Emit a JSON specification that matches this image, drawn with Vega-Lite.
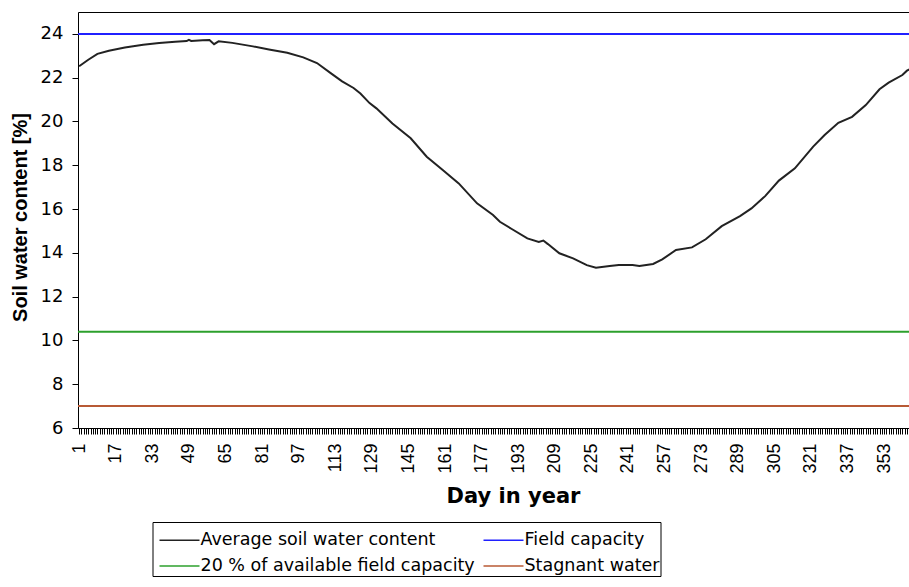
{
  "$schema": "https://vega.github.io/schema/vega-lite/v6.json",
  "autosize": "none",
  "padding": {"left": 78, "top": 12, "right": 0, "bottom": 159},
  "width": 831,
  "height": 416,
  "background": "white",
  "config": {
    "view": {"stroke": null},
    "axis": {"domainColor": "black", "tickColor": "black", "labelColor": "black", "titleColor": "black", "grid": false}
  },
  "datasets": {
    "soil": [
      {"day": 1, "value": 22.52, "series": "Average soil water content"},
      {"day": 5, "value": 22.82, "series": "Average soil water content"},
      {"day": 9, "value": 23.09, "series": "Average soil water content"},
      {"day": 14, "value": 23.23, "series": "Average soil water content"},
      {"day": 21, "value": 23.38, "series": "Average soil water content"},
      {"day": 29, "value": 23.5, "series": "Average soil water content"},
      {"day": 36, "value": 23.58, "series": "Average soil water content"},
      {"day": 43, "value": 23.64, "series": "Average soil water content"},
      {"day": 48, "value": 23.67, "series": "Average soil water content"},
      {"day": 49, "value": 23.73, "series": "Average soil water content"},
      {"day": 50, "value": 23.68, "series": "Average soil water content"},
      {"day": 55, "value": 23.71, "series": "Average soil water content"},
      {"day": 58, "value": 23.72, "series": "Average soil water content"},
      {"day": 60, "value": 23.53, "series": "Average soil water content"},
      {"day": 62, "value": 23.66, "series": "Average soil water content"},
      {"day": 68, "value": 23.59, "series": "Average soil water content"},
      {"day": 77, "value": 23.43, "series": "Average soil water content"},
      {"day": 84, "value": 23.29, "series": "Average soil water content"},
      {"day": 92, "value": 23.14, "series": "Average soil water content"},
      {"day": 99, "value": 22.93, "series": "Average soil water content"},
      {"day": 105, "value": 22.67, "series": "Average soil water content"},
      {"day": 111, "value": 22.21, "series": "Average soil water content"},
      {"day": 116, "value": 21.83, "series": "Average soil water content"},
      {"day": 121, "value": 21.53, "series": "Average soil water content"},
      {"day": 124, "value": 21.28, "series": "Average soil water content"},
      {"day": 128, "value": 20.84, "series": "Average soil water content"},
      {"day": 131, "value": 20.6, "series": "Average soil water content"},
      {"day": 138, "value": 19.91, "series": "Average soil water content"},
      {"day": 146, "value": 19.23, "series": "Average soil water content"},
      {"day": 153, "value": 18.39, "series": "Average soil water content"},
      {"day": 160, "value": 17.78, "series": "Average soil water content"},
      {"day": 167, "value": 17.17, "series": "Average soil water content"},
      {"day": 175, "value": 16.26, "series": "Average soil water content"},
      {"day": 182, "value": 15.73, "series": "Average soil water content"},
      {"day": 185, "value": 15.42, "series": "Average soil water content"},
      {"day": 190, "value": 15.1, "series": "Average soil water content"},
      {"day": 197, "value": 14.66, "series": "Average soil water content"},
      {"day": 202, "value": 14.5, "series": "Average soil water content"},
      {"day": 204, "value": 14.56, "series": "Average soil water content"},
      {"day": 206, "value": 14.4, "series": "Average soil water content"},
      {"day": 211, "value": 13.98, "series": "Average soil water content"},
      {"day": 217, "value": 13.75, "series": "Average soil water content"},
      {"day": 223, "value": 13.44, "series": "Average soil water content"},
      {"day": 227, "value": 13.32, "series": "Average soil water content"},
      {"day": 233, "value": 13.4, "series": "Average soil water content"},
      {"day": 237, "value": 13.44, "series": "Average soil water content"},
      {"day": 243, "value": 13.44, "series": "Average soil water content"},
      {"day": 246, "value": 13.4, "series": "Average soil water content"},
      {"day": 252, "value": 13.49, "series": "Average soil water content"},
      {"day": 256, "value": 13.7, "series": "Average soil water content"},
      {"day": 262, "value": 14.13, "series": "Average soil water content"},
      {"day": 269, "value": 14.25, "series": "Average soil water content"},
      {"day": 275, "value": 14.62, "series": "Average soil water content"},
      {"day": 282, "value": 15.22, "series": "Average soil water content"},
      {"day": 290, "value": 15.68, "series": "Average soil water content"},
      {"day": 295, "value": 16.03, "series": "Average soil water content"},
      {"day": 301, "value": 16.59, "series": "Average soil water content"},
      {"day": 307, "value": 17.3, "series": "Average soil water content"},
      {"day": 314, "value": 17.86, "series": "Average soil water content"},
      {"day": 322, "value": 18.85, "series": "Average soil water content"},
      {"day": 327, "value": 19.38, "series": "Average soil water content"},
      {"day": 333, "value": 19.94, "series": "Average soil water content"},
      {"day": 339, "value": 20.21, "series": "Average soil water content"},
      {"day": 345, "value": 20.75, "series": "Average soil water content"},
      {"day": 351, "value": 21.47, "series": "Average soil water content"},
      {"day": 355, "value": 21.77, "series": "Average soil water content"},
      {"day": 361, "value": 22.12, "series": "Average soil water content"},
      {"day": 363, "value": 22.32, "series": "Average soil water content"},
      {"day": 365, "value": 22.42, "series": "Average soil water content"}
    ],
    "thresholds": [
      {"series": "Field capacity", "value": 24},
      {"series": "20 % of available field capacity", "value": 10.4},
      {"series": "Stagnant water", "value": 7}
    ]
  },
  "layer": [
    {
      "data": {"name": "thresholds"},
      "mark": {"type": "rule", "strokeWidth": 2, "clip": true},
      "encoding": {
        "x": {"datum": 0.5, "type": "quantitative",
              "scale": {"domain": [0.5, 363.9], "nice": false, "zero": false},
              "axis": {"orient": "top", "ticks": false, "labels": false, "title": null, "domain": true}},
        "x2": {"datum": 363.9},
        "y": {"field": "value", "type": "quantitative"},
        "color": {"field": "series", "type": "nominal"}
      }
    },
    {
      "data": {"name": "soil"},
      "mark": {"type": "line", "strokeWidth": 2, "clip": true},
      "encoding": {
        "x": {"field": "day", "type": "quantitative",
              "scale": {"domain": [0.5, 363.9], "nice": false, "zero": false},
              "axis": {"orient": "bottom", "title": "Day in year", "tickCount": 365,
                       "labelExpr": "(datum.value - 1) % 16 === 0 ? datum.label : ''",
                       "labelOverlap": false, "labelFlush": false, "labelAngle": -90,
                       "labelFont": "Liberation Sans", "labelFontSize": 18, "labelPadding": 9,
                       "tickSize": 6, "tickWidth": 1,
                       "titleFont": "DejaVu Sans", "titleFontSize": 21, "titleFontWeight": "bold",
                       "titleX": 435, "titleY": 74, "titleAlign": "center", "titleBaseline": "alphabetic"}},
        "y": {"field": "value", "type": "quantitative",
              "scale": {"domain": [6, 25], "nice": false, "zero": false},
              "axis": {"title": "Soil water content [%]", "values": [6, 8, 10, 12, 14, 16, 18, 20, 22, 24],
                       "labelFont": "DejaVu Sans", "labelFontSize": 18, "labelPadding": 9, "tickSize": 6,
                       "titleFont": "Liberation Sans", "titleFontSize": 20, "titleFontWeight": "bold",
                       "titleX": -58, "titleY": 205, "titleAngle": -90, "titleAlign": "center", "titleBaseline": "middle"}},
        "color": {"field": "series", "type": "nominal",
                  "scale": {"domain": ["Average soil water content", "Field capacity", "20 % of available field capacity", "Stagnant water"],
                            "range": ["#222222", "#2020ff", "#2ca02c", "#b85a35"]},
                  "legend": {"orient": "none", "legendX": 74.5, "legendY": 510, "columns": 2, "direction": "horizontal", "title": null,
                             "strokeColor": "black", "padding": 1, "symbolType": "M-1,0H1.5", "symbolSize": 1024,
                             "symbolOffset": 5, "symbolFillColor": "transparent",
                             "symbolStrokeWidth": 1.5, "labelFont": "DejaVu Sans", "labelFontSize": 17.5,
                             "labelColor": "black", "labelOffset": 8, "columnPadding": 2, "rowPadding": -2,
                             "labelLimit": 400}}
      }
    }
  ],
  "resolve": {"axis": {"x": "independent"}}
}
